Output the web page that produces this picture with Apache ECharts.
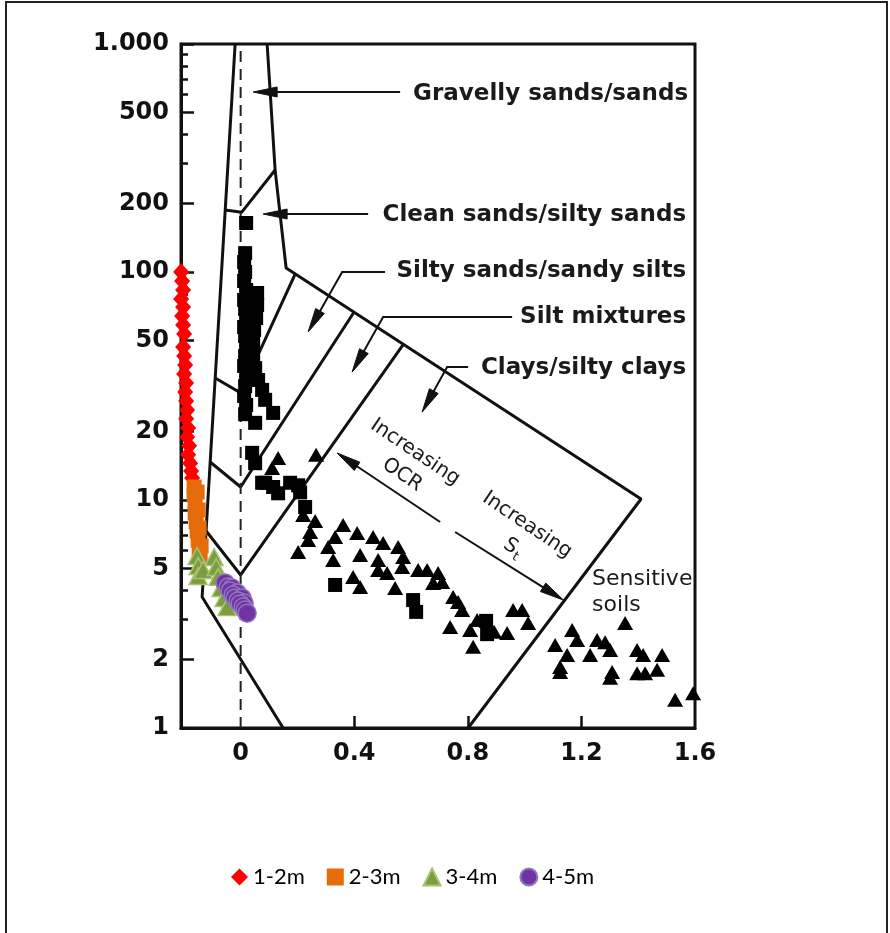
<!DOCTYPE html>
<html>
<head>
<meta charset="utf-8">
<script src="https://cdn.jsdelivr.net/npm/echarts@6/dist/echarts.min.js"></script>
<style>
  html, body { margin: 0; padding: 0; background: #fff; }
  #chart { width: 890px; height: 933px; }
</style>
</head>
<body>
<div id="chart"></div>
<script>
// CPTu soil classification: pore pressure ratio Bq (x) vs normalised cone resistance Qt (y, log)

// ---- axis ticks and labels ----
const xTickValues = [0, 0.4, 0.8, 1.2, 1.6];
const xTickLabels = ['0', '0.4', '0.8', '1.2', '1.6'];
const xInnerTicks = [0.4, 0.8, 1.2];
const yMajorTicks = [1, 2, 5, 10, 20, 50, 100, 200, 500, 1000];
const yMajorLabels = ['1', '2', '5', '10', '20', '50', '100', '200', '500', '1.000'];
const yMinorTicks = [3, 4, 6, 7, 8, 9, 30, 40, 60, 70, 80, 90, 300, 400, 600, 700, 800, 900];

// ---- measured profiles, [Bq, Qt] ----
const depth1to2 = [
  [-0.2095, 100], [-0.206, 91.3], [-0.2025, 83.4], [-0.2095, 76.1], [-0.2025, 70.2],
  [-0.206, 64.1], [-0.2025, 58.6], [-0.1989, 53.5], [-0.2025, 46.9], [-0.1989, 42.8],
  [-0.1954, 39.1], [-0.1989, 35.7], [-0.1919, 32.6], [-0.1954, 29.8], [-0.1919, 27.2],
  [-0.1884, 24.8], [-0.1919, 22.7], [-0.1849, 20.7], [-0.1884, 18.9], [-0.1813, 17.3],
  [-0.1849, 15.8], [-0.1778, 14.5], [-0.1743, 13.4], [-0.1708, 12.5]
];
const depth2to3 = [
  [-0.1637, 11.4], [-0.1532, 10.84], [-0.1637, 10.52], [-0.1602, 9.6], [-0.1496, 9.04],
  [-0.1602, 8.77], [-0.1567, 8.01], [-0.1461, 7.54], [-0.1532, 7.31], [-0.1496, 6.68],
  [-0.1391, 6.28], [-0.1461, 6.1], [-0.1426, 5.68]
];
const depth3to4 = [
  [-0.1532, 5.68], [-0.1496, 5.13], [-0.1496, 4.64], [-0.132, 4.93], [-0.0933, 5.62],
  [-0.0863, 5.08], [-0.0792, 4.6], [-0.0687, 4.11], [-0.0581, 3.72], [-0.0475, 3.39]
];
const depth4to5 = [
  [-0.0546, 4.33], [-0.044, 4.15], [-0.0299, 4.11], [-0.037, 3.99], [-0.0123, 3.91],
  [-0.0264, 3.83], [-0.0194, 3.72], [0.0053, 3.72], [-0.0088, 3.61], [0.0123, 3.53],
  [-0.0018, 3.5], [0.0088, 3.39], [0.0158, 3.29], [0.0229, 3.19]
];

// ---- background database points of the classification chart ----
const databaseSquares = [
  [0.0194, 164], [0.0158, 121], [0.0123, 110.6], [0.0158, 100], [0.0123, 91.3],
  [0.0194, 83.4], [0.0123, 75.4], [0.0158, 68.8], [0.0194, 62.8], [0.0123, 57.4],
  [0.0158, 52.4], [0.0194, 47.4], [0.0158, 42.8], [0.0123, 38.7], [0.0194, 35.0],
  [0.0158, 31.6], [0.0123, 28.6], [0.0194, 26.1], [0.0158, 23.8], [0.0581, 80.9],
  [0.0581, 71.7], [0.0546, 62.8], [0.0475, 55.7], [0.044, 48.8], [0.044, 42.4],
  [0.0511, 37.9], [0.0616, 33.6], [0.0757, 30.4], [0.0863, 27.5], [0.1144, 24.1],
  [0.0511, 21.8], [0.0405, 16.1], [0.0511, 14.5], [0.0863, 11.9], [0.1144, 11.4],
  [0.2025, 11.6], [0.2095, 10.8], [0.2271, 9.32], [0.3327, 4.24], [0.6074, 3.64],
  [0.618, 3.23], [0.8644, 2.95], [0.868, 2.58], [0.0757, 11.9], [0.132, 10.7],
  [0.1743, 11.9]
];
const databaseTriangles = [
  [0.132, 15.3], [0.2658, 15.8], [0.1109, 13.8], [0.2201, 8.59], [0.2623, 8.09],
  [0.2447, 7.24], [0.2377, 6.68], [0.2025, 5.91], [0.3609, 7.77], [0.3327, 6.88],
  [0.3081, 6.22], [0.4102, 7.17], [0.4665, 6.88], [0.5018, 6.48], [0.5546, 6.22],
  [0.5722, 5.62], [0.4208, 5.74], [0.3257, 5.46], [0.4842, 5.46], [0.4842, 4.93],
  [0.5158, 4.78], [0.5687, 5.08], [0.625, 4.93], [0.6567, 4.93], [0.6954, 4.78],
  [0.6778, 4.33], [0.7095, 4.37], [0.3961, 4.6], [0.4208, 4.15], [0.544, 4.11],
  [0.7482, 3.75], [0.7658, 3.57], [0.7799, 3.29], [0.7377, 2.77], [0.8081, 2.69],
  [0.8327, 2.98], [0.8187, 2.27], [0.9595, 3.29], [0.9912, 3.29], [1.0123, 2.89],
  [0.9384, 2.61], [0.8926, 2.64], [1.1673, 2.69], [1.1849, 2.43], [1.1074, 2.31],
  [1.1497, 2.09], [1.125, 1.85], [1.125, 1.76], [1.2306, 2.09], [1.2553, 2.43],
  [1.2835, 2.38], [1.3011, 2.2], [1.3081, 1.76], [1.3011, 1.66], [1.3539, 2.89],
  [1.3961, 2.2], [1.4173, 2.09], [1.4842, 2.09], [1.4666, 1.8], [1.3961, 1.74],
  [1.4243, 1.74], [1.5299, 1.33], [1.5933, 1.42]
];

// ---- zone boundaries, [Bq, Qt] ----
const boundaryLeft = [[-0.0194, 1000], [-0.1356, 3.755], [0.1496, 1]];
const boundaryGravel = [[0.0933, 1000], [0.1215, 280], [0.1602, 104.1], [1.41, 10.1], [0.801, 1]];
const boundaryCleanSand = [[-0.0546, 187], [0.004, 183], [0.1215, 280]];
const boundarySiltySand = [[-0.0898, 34.3], [0, 29.5], [0.1919, 98]];
const boundarySiltMix = [[-0.1074, 14.68], [0, 11.4], [0.399, 66.6]];
const boundaryClay = [[-0.1215, 7.31], [0, 4.69], [0.573, 48.2]];
const zeroLine = [[0, 1], [0, 1000]];

// ---- zone names and notes ----
const zoneNames = ['Gravelly sands/sands', 'Clean sands/silty sands', 'Silty sands/sandy silts',
  'Silt mixtures', 'Clays/silty clays'];

// leader paths (tail ... tip) and label anchors in data space
const layout = {
  leaders: [
    [[0.5616, 615.9], [0.044, 615.9]],
    [[0.449, 179.6], [0.0792, 179.6]],
    [[0.5088, 100], [0.3574, 100], [0.2377, 54.6]],
    [[0.956, 63.5], [0.5018, 63.5], [0.3926, 36.4]],
    [[0.801, 38.3], [0.7271, 38.3], [0.6391, 24.3]],
    [[0.7025, 8.01], [0.3398, 16.07]],
    [[0.7553, 7.24], [1.1366, 3.64]]
  ],
  zoneLabelAnchors: [[1.5757, 603.5], [1.5687, 177.8], [1.5687, 101.0], [1.5687, 63.5], [1.5687, 37.9]],
  ocrAnchor: [0.6144, 16.2],
  stAnchor: [1.0088, 7.77],
  sensitiveAnchor: [1.2377, 4.5],
  soilsAnchor: [1.2377, 3.46]
};

const ink = '#111';
const lineSeries = [boundaryLeft, boundaryGravel, boundaryCleanSand, boundarySiltySand,
  boundarySiltMix, boundaryClay].map(function (pts, i) {
  return {
    name: 'boundary' + i, type: 'line', data: pts, symbol: 'none', showSymbol: false,
    lineStyle: { color: ink, width: 3 }, silent: true, z: 3, animation: false
  };
});
lineSeries.push({
  name: 'Bq = 0', type: 'line', data: zeroLine, symbol: 'none', showSymbol: false,
  lineStyle: { color: '#222', width: 2, type: [11, 7] }, silent: true, z: 3
});

const axisFont = { fontFamily: 'DejaVu Sans', fontWeight: 'bold', fontSize: 24, color: ink };

function nearestLabel(values, labels, v) {
  for (let i = 0; i < values.length; i++) {
    if (Math.abs(values[i] - v) < 1e-9 * Math.max(1, Math.abs(v))) return labels[i];
  }
  return String(v);
}

const option = {
  animation: false,
  backgroundColor: '#fff',
  grid: { left: 181, right: 195, top: 44, bottom: 205, show: true, borderColor: ink, borderWidth: 3 },
  xAxis: {
    type: 'value', min: -0.21, max: 1.6,
    axisLine: { show: true, onZero: false, lineStyle: { color: ink, width: 3 } },
    axisTick: { show: true, inside: true, length: 12, customValues: xInnerTicks, lineStyle: { color: ink, width: 2.5 } },
    axisLabel: Object.assign({
      show: true, margin: 14, customValues: xTickValues,
      formatter: function (v) { return nearestLabel(xTickValues, xTickLabels, v); }
    }, axisFont),
    splitLine: { show: false }
  },
  yAxis: [{
    type: 'log', logBase: 10, min: 1, max: 1000,
    axisLine: { show: true, onZero: false, lineStyle: { color: ink, width: 3 } },
    axisTick: { show: true, inside: true, length: 13, customValues: yMajorTicks, lineStyle: { color: ink, width: 2.5 } },
    axisLabel: Object.assign({
      show: true, margin: 12, customValues: yMajorTicks,
      formatter: function (v) { return nearestLabel(yMajorTicks, yMajorLabels, v); }
    }, axisFont),
    splitLine: { show: false }
  }, {
    type: 'log', logBase: 10, min: 1, max: 1000, position: 'left', offset: 0,
    axisLine: { show: false, onZero: false },
    axisTick: { show: true, inside: true, length: 7, customValues: yMinorTicks, lineStyle: { color: ink, width: 2.5 } },
    axisLabel: { show: false },
    splitLine: { show: false }
  }],
  legend: {
    show: true, selectedMode: false, left: 226, top: 861,
    itemWidth: 17, itemHeight: 17, itemGap: 22,
    textStyle: { fontFamily: 'Lato', fontSize: 22, color: '#000' },
    data: [
      { name: '1-2m', icon: 'diamond' },
      { name: '2-3m', icon: 'rect' },
      { name: '3-4m', icon: 'triangle' },
      { name: '4-5m', icon: 'circle' }
    ]
  },
  series: lineSeries.concat([
    { name: 'database (squares)', type: 'scatter', data: databaseSquares, symbol: 'rect', symbolSize: 14,
      itemStyle: { color: '#000', opacity: 1 }, silent: true, z: 4 },
    { name: 'database (triangles)', type: 'scatter', data: databaseTriangles, symbol: 'triangle', symbolSize: [16, 14],
      itemStyle: { color: '#000', opacity: 1 }, silent: true, z: 4 },
    { name: '1-2m', type: 'scatter', data: depth1to2, symbol: 'diamond', symbolSize: [16, 18],
      itemStyle: { color: '#ff0000', opacity: 1 }, z: 5 },
    { name: '2-3m', type: 'scatter', data: depth2to3, symbol: 'rect', symbolSize: 15,
      itemStyle: { color: '#e46c0a', opacity: 1 }, z: 5 },
    { name: '3-4m', type: 'scatter', data: depth3to4, symbol: 'triangle', symbolSize: [18, 17],
      itemStyle: { color: '#7d9c42', borderColor: '#a6c46e', borderWidth: 1.5, opacity: 1 }, z: 5 },
    { name: '4-5m', type: 'scatter', data: depth4to5, symbol: 'circle', symbolSize: 18,
      itemStyle: { color: '#7134a3', borderColor: '#9277c0', borderWidth: 1.5, opacity: 1 }, z: 5 }
  ])
};

const chart = echarts.init(document.getElementById('chart'), null, { renderer: 'canvas' });
chart.setOption(option);

// ---- annotations: leaders, arrowheads, notes ----
const toPx = function (p) { return chart.convertToPixel({ xAxisIndex: 0, yAxisIndex: 0 }, p); };
const graphics = [];

graphics.push({
  type: 'rect', shape: { x: 6, y: 2, width: 881, height: 940 },
  style: { fill: null, stroke: '#222', lineWidth: 2 }, silent: true, z: 100
});

layout.leaders.forEach(function (path) {
  const pts = path.map(toPx);
  const n = pts.length;
  const tip = pts[n - 1], prev = pts[n - 2];
  const dx = tip[0] - prev[0], dy = tip[1] - prev[1];
  const len = Math.hypot(dx, dy);
  const ux = dx / len, uy = dy / len, nx = -uy, ny = ux;
  const headLen = 24, headHalf = 5;
  const bx = tip[0] - ux * headLen, by = tip[1] - uy * headLen;
  const linePts = pts.slice(0, n - 1).concat([[tip[0] - ux * headLen * 0.6, tip[1] - uy * headLen * 0.6]]);
  graphics.push({
    type: 'polyline', shape: { points: linePts },
    style: { stroke: ink, lineWidth: 2, fill: null }, silent: true, z: 100
  });
  graphics.push({
    type: 'polygon',
    shape: { points: [tip, [bx + nx * headHalf, by + ny * headHalf], [bx - nx * headHalf, by - ny * headHalf]] },
    style: { fill: ink, stroke: ink, lineWidth: 1 }, silent: true, z: 100
  });
});

function textStyle(text, font, align) {
  return {
    text: text, font: font, fill: '#1a1a1a',
    textAlign: align, align: align,
    textVerticalAlign: 'middle', verticalAlign: 'middle'
  };
}

const zoneFont = 'bold 23px "DejaVu Sans"';
zoneNames.forEach(function (name, i) {
  const p = toPx(layout.zoneLabelAnchors[i]);
  graphics.push({ type: 'text', x: p[0], y: p[1], style: textStyle(name, zoneFont, 'right'), silent: true, z: 100 });
});

const noteFont = '20px "DejaVu Sans"';
const tilt = -34 * Math.PI / 180;
const ocr = toPx(layout.ocrAnchor);
graphics.push({
  type: 'group', x: ocr[0], y: ocr[1], rotation: tilt, z: 100, silent: true,
  children: [
    { type: 'text', x: 0, y: 0, style: textStyle('Increasing', noteFont, 'center'), z: 100 },
    { type: 'text', x: 2, y: 26, style: textStyle('OCR', noteFont, 'center'), z: 100 }
  ]
});
const st = toPx(layout.stAnchor);
graphics.push({
  type: 'group', x: st[0], y: st[1], rotation: tilt, z: 100, silent: true,
  children: [
    { type: 'text', x: 0, y: 0, style: textStyle('Increasing', noteFont, 'center'), z: 100 },
    { type: 'text', x: -2, y: 27, style: textStyle('S', noteFont, 'center'), z: 100 },
    { type: 'text', x: 8, y: 33, style: textStyle('t', '13px "DejaVu Sans"', 'center'), z: 100 }
  ]
});
const sens = toPx(layout.sensitiveAnchor);
const soils = toPx(layout.soilsAnchor);
graphics.push({ type: 'text', x: sens[0], y: sens[1], style: textStyle('Sensitive', '22px "DejaVu Sans"', 'left'), silent: true, z: 100 });
graphics.push({ type: 'text', x: soils[0], y: soils[1], style: textStyle('soils', '22px "DejaVu Sans"', 'left'), silent: true, z: 100 });

chart.setOption({ graphic: { elements: graphics } });
</script>
</body>
</html>
